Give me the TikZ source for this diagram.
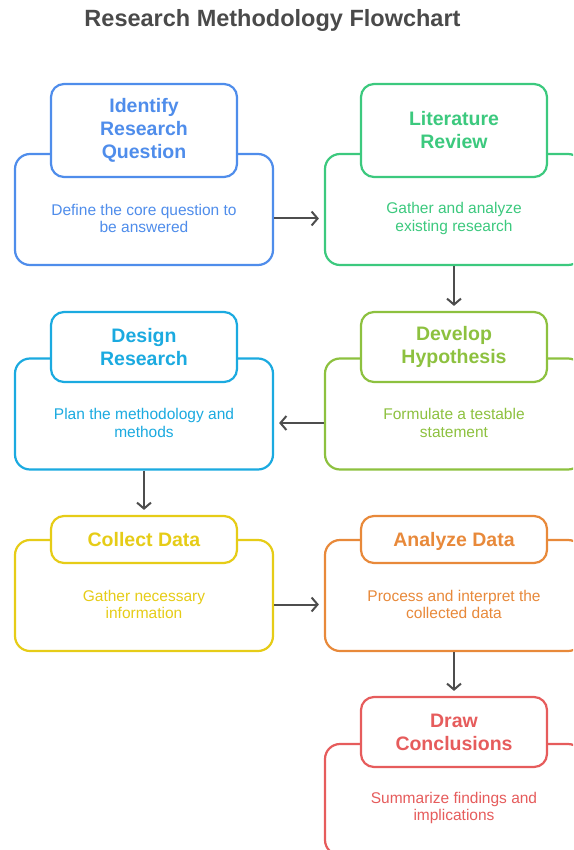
\documentclass[tikz,border=0pt]{standalone}
\usepackage{fontspec}
\setmainfont{Liberation Sans}[BoldFont={Liberation Sans Bold}]
\usetikzlibrary{positioning, arrows.meta}

\definecolor{titlegray}{HTML}{4A4A4A}
\definecolor{arrowgray}{HTML}{4D4D4D}
\definecolor{stepblue}{HTML}{4F8DEB}
\definecolor{stepgreen}{HTML}{3CC97E}
\definecolor{stepcyan}{HTML}{1BAAE0}
\definecolor{stepolive}{HTML}{8DC13F}
\definecolor{stepyellow}{HTML}{E6CC17}
\definecolor{steporange}{HTML}{E8893A}
\definecolor{stepred}{HTML}{E65C5C}

\tikzset{
  box/.style={draw=#1, line width=2.2pt, rounded corners=15pt, fill=white,
    minimum width=258, minimum height=111},
  head/.style={draw=#1, text=#1, line width=2.2pt, rounded corners=13pt, fill=white,
    minimum width=186, align=center, font=\bfseries\fontsize{19.5}{23}\selectfont},
  desc/.style={text=#1, align=center, font=\fontsize{15.5}{17.5}\selectfont},
  flow/.style={->, draw=arrowgray, line width=2pt, shorten >=5pt},
}

\begin{document}
\begin{tikzpicture}[x=1pt, y=-1pt, >={Straight Barb[length=6pt, width=14pt]}]
\path[use as bounding box, clip] (0,0) rectangle (573,850);

\node[font=\bfseries\fontsize{23.5}{28}\selectfont, text=titlegray] (title) at (272.5,20.5) {Research Methodology Flowchart};

% first row
\node[box=stepblue] (b1) at (144,209.5) {};
\node[head=stepblue, minimum height=93] (h1) at (144,130.5) {Identify\\Research\\Question};
\node[desc=stepblue] (t1) at (144,218.5) {Define the core question to\\be answered};

\node[box=stepgreen] (b2) at (454,209.5) {};
\node[head=stepgreen, minimum height=93] (h2) at (454,130.5) {Literature\\Review};
\node[desc=stepgreen] (t2) at (454,218.5) {Gather and analyze\\existing research};

% second row
\node[box=stepcyan] (b3) at (144,414) {};
\node[head=stepcyan, minimum height=70] (h3) at (144,347) {Design\\Research};
\node[desc=stepcyan] (t3) at (144,423) {Plan the methodology and\\methods};

\node[box=stepolive] (b4) at (454,414) {};
\node[head=stepolive, minimum height=70] (h4) at (454,347) {Develop\\Hypothesis};
\node[desc=stepolive] (t4) at (454,423) {Formulate a testable\\statement};

% third row
\node[box=stepyellow] (b5) at (144,595.5) {};
\node[head=stepyellow, minimum height=47] (h5) at (144,539.5) {Collect Data};
\node[desc=stepyellow] (t5) at (144,604.5) {Gather necessary\\information};

\node[box=steporange] (b6) at (454,595.5) {};
\node[head=steporange, minimum height=47, text depth=0pt] (h6) at (454,539.5) {Analyze Data};
\node[desc=steporange] (t6) at (454,604.5) {Process and interpret the\\collected data};

% last step
\node[box=stepred] (b7) at (454,799.5) {};
\node[head=stepred, minimum height=70] (h7) at (454,732) {Draw\\Conclusions};
\node[desc=stepred] (t7) at (454,808) {Summarize findings and\\implications};

% connectors
\draw[flow] (b1.east |- t1) -- (b2.west |- t1);
\draw[flow] (b2.south) -- (h4.north);
\draw[flow] (b4.west |- t4) -- (b3.east |- t4);
\draw[flow] (b3.south) -- (h5.north);
\draw[flow] (b5.east |- t5) -- (b6.west |- t5);
\draw[flow] (b6.south) -- (h7.north);
\end{tikzpicture}
\end{document}
